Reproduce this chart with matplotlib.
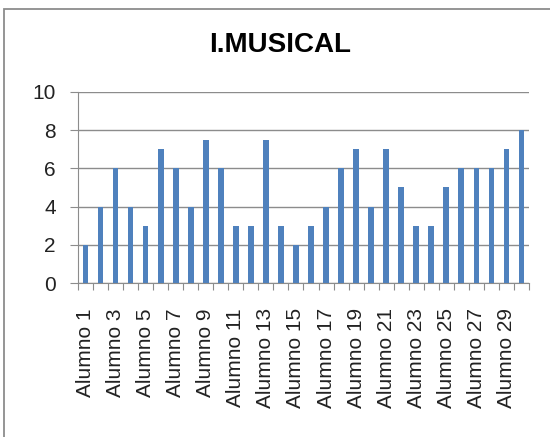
import matplotlib
matplotlib.use('Agg')
import matplotlib.pyplot as plt
from matplotlib.patches import Rectangle

alumnos = [f"Alumno {i}" for i in range(1, 31)]
notas = [2, 4, 6, 4, 3, 7, 6, 4, 7.5, 6, 3, 3, 7.5, 3, 2,
         3, 4, 6, 7, 4, 7, 5, 3, 3, 5, 6, 6, 6, 7, 8]

plt.rcParams['font.family'] = ['Liberation Sans', 'DejaVu Sans']

fig = plt.figure(figsize=(5.5, 4.37), dpi=100)
ax = fig.add_axes([0.1418, 0.3524, 0.82, 0.4371])

# outer chart border (runs off the right and bottom edges)
fig.patches.append(Rectangle((0.007, -0.05), 1.1, 1.029, transform=fig.transFigure,
                             fill=False, edgecolor='#8c8c8c', linewidth=1.3))

x = list(range(len(notas)))
ax.bar(x, notas, width=0.38, color='#4f81bd', zorder=3)

ax.set_xlim(-0.5, len(notas) - 0.5)
ax.set_ylim(0, 10)
ax.set_yticks([0, 2, 4, 6, 8, 10])
ax.yaxis.grid(True, color='#8c8c8c', linewidth=1)
ax.set_axisbelow(True)

# ticks at category boundaries, labels every other category
ax.set_xticks([i - 0.5 for i in range(len(notas) + 1)], minor=False)
ax.set_xticklabels([])
ax.set_xticks(x[::2], minor=True)
ax.set_xticklabels(alumnos[::2], minor=True, rotation=90, fontsize=15,
                   color='#222222')
ax.tick_params(axis='x', which='major', length=5, color='#8c8c8c')
ax.tick_params(axis='x', which='minor', length=0, pad=18)
ax.tick_params(axis='y', length=6, color='#8c8c8c', labelsize=15, pad=10,
               labelcolor='#222222')

for s in ['top', 'right']:
    ax.spines[s].set_visible(False)
for s in ['left', 'bottom']:
    ax.spines[s].set_color('#8c8c8c')

fig.text(0.509, 0.897, 'I.MUSICAL', ha='center', va='center',
         fontsize=20, fontweight='bold')

fig.savefig('out.png', dpi=100)
